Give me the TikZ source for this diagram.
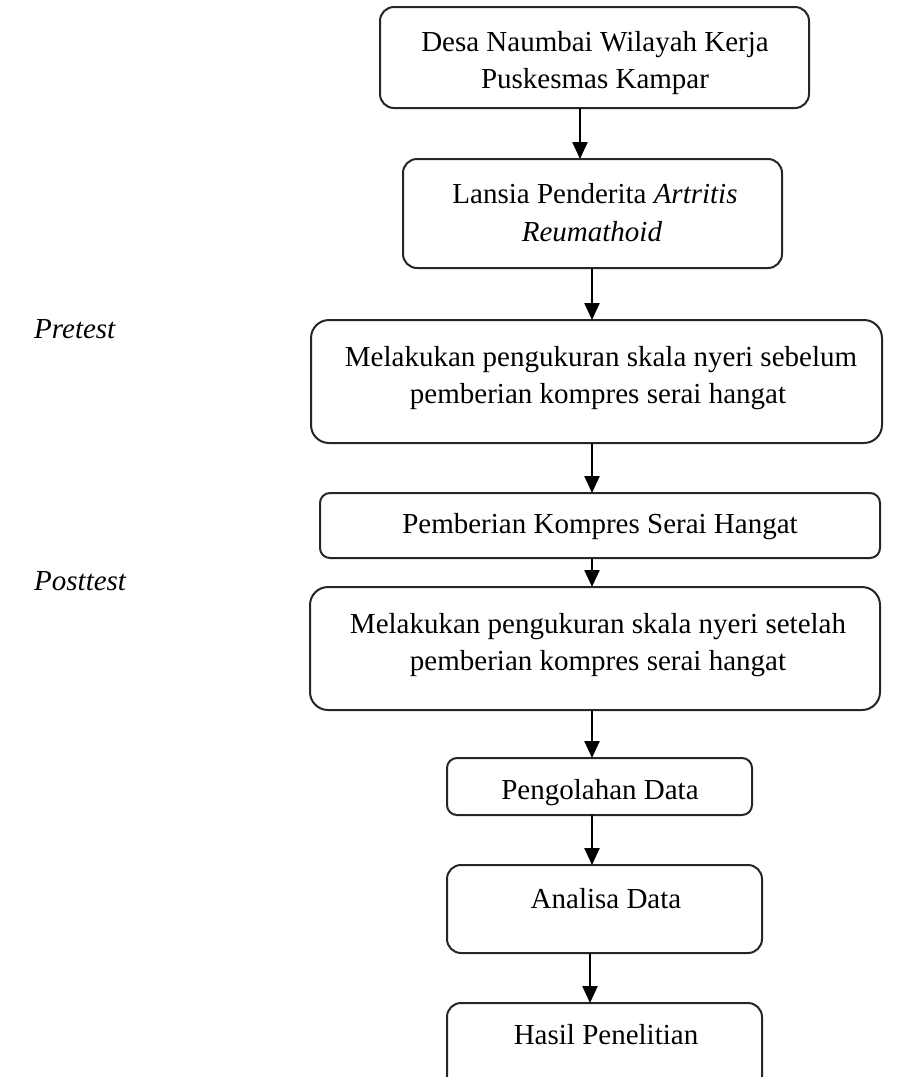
\documentclass[tikz,border=0pt]{standalone}
\usepackage{fontspec}
\setmainfont{Liberation Serif}
\usetikzlibrary{arrows.meta}
\begin{document}
\begin{tikzpicture}[x=1pt,y=-1pt,
  box/.style={draw=black!85, line width=2pt, rounded corners=14pt, inner sep=0pt, outer sep=0pt, anchor=north west},
  txt/.style={inner sep=0pt, anchor=base, font=\fontsize{29}{37}\selectfont},
  side/.style={inner sep=0pt, anchor=base west, font=\fontsize{29}{37}\selectfont\itshape},
  arr/.style={line width=2.4pt, -{Triangle[width=15pt,length=17pt]}}]
\clip (0,0) rectangle (900,1077);
\fill[white] (0,0) rectangle (900,1077);
% boxes
\node[box, minimum width=429pt, minimum height=101pt] (b1) at (380,7) {};
\node[box, minimum width=379pt, minimum height=109pt] (b2) at (403,159) {};
\node[box, minimum width=571pt, minimum height=123pt, rounded corners=18pt] (b3) at (311,320) {};
\node[box, minimum width=560pt, minimum height=65pt, rounded corners=10pt] (b4) at (320,493) {};
\node[box, minimum width=570pt, minimum height=123pt, rounded corners=18pt] (b5) at (310,587) {};
\node[box, minimum width=305pt, minimum height=57pt, rounded corners=10pt] (b6) at (447,758) {};
\node[box, minimum width=315pt, minimum height=88pt] (b7) at (447,865) {};
\node[box, minimum width=315pt, minimum height=100pt] (b8) at (447,1003) {};
% texts
\node[txt] (t1a) at (595,51) {Desa Naumbai Wilayah Kerja};
\node[txt] (t1b) at (595,88) {Puskesmas Kampar};
\node[txt] (t2a) at (595,203) {Lansia Penderita \textit{Artritis}};
\node[txt] (t2b) at (592,241) {\textit{Reumathoid}};
\node[txt] (t3a) at (601,366) {Melakukan pengukuran skala nyeri sebelum};
\node[txt] (t3b) at (598,403) {pemberian kompres serai hangat};
\node[txt] (t4) at (600,533) {Pemberian Kompres Serai Hangat};
\node[txt] (t5a) at (598,633) {Melakukan pengukuran skala nyeri setelah};
\node[txt] (t5b) at (598,670) {pemberian kompres serai hangat};
\node[txt] (t6) at (600,799) {Pengolahan Data};
\node[txt] (t7) at (606,908) {Analisa Data};
\node[txt] (t8) at (606,1044) {Hasil Penelitian};
% side labels
\node[side] (pre) at (34,338) {Pretest};
\node[side] (post) at (34,590) {Posttest};
% arrow columns
\coordinate (xa) at (580,0);
\coordinate (xb) at (592,0);
\coordinate (xc) at (590,0);
\draw[arr] (b1.south -| xa) -- (b2.north -| xa);
\draw[arr] (b2.south -| xb) -- (b3.north -| xb);
\draw[arr] (b3.south -| xb) -- (b4.north -| xb);
\draw[arr] (b4.south -| xb) -- (b5.north -| xb);
\draw[arr] (b5.south -| xb) -- (b6.north -| xb);
\draw[arr] (b6.south -| xb) -- (b7.north -| xb);
\draw[arr] (b7.south -| xc) -- (b8.north -| xc);
\end{tikzpicture}
\end{document}
